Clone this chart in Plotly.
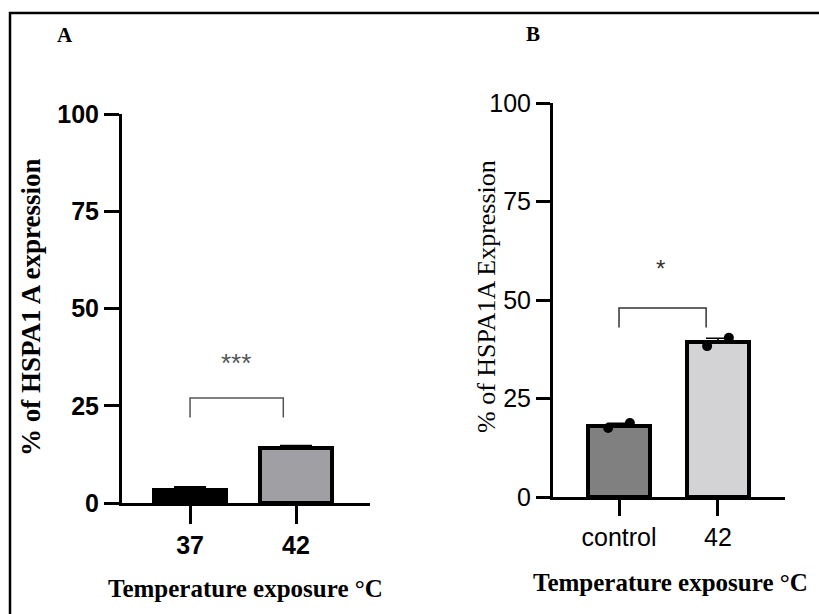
import plotly.graph_objects as go

# ---------------- data ----------------
A_categories = ["37", "42"]
A_means = [3.4, 14.2]
A_errors = [0.6, 0.4]
A_colors = ["#000000", "#A0A0A4"]
A_bracket_y = [22, 27]
A_star_y = 36
A_star_text = "***"

B_categories = ["control", "42"]
B_means = [18.1, 39.3]
B_errors = [0.6, 1.0]
B_points_control = [17.5, 18.8]
B_points_42 = [38.3, 40.4]
B_colors = ["#808080", "#D3D3D5"]
B_bracket_y = [43, 48]
B_star_y = 58
B_star_text = "*"

y_ticks = [0, 25, 50, 75, 100]

W, H = 819, 614

def px_x(p):
    return p / W

def px_y(p):
    return 1 - p / H

fig = go.Figure()

# Panel A bars
fig.add_trace(go.Bar(
    x=[0, 1], y=A_means, width=0.68,
    marker=dict(color=A_colors, line=dict(color="black", width=4)),
    error_y=dict(type="data", array=A_errors, symmetric=False,
                 arrayminus=[0] * len(A_errors),
                 color="black", thickness=3, width=16),
    xaxis="x", yaxis="y", showlegend=False,
))

# Panel B bars
fig.add_trace(go.Bar(
    x=[0, 1], y=B_means, width=0.62,
    marker=dict(color=B_colors, line=dict(color="black", width=4)),
    error_y=dict(type="data", array=B_errors, symmetric=False,
                 arrayminus=[0] * len(B_errors),
                 color="black", thickness=1.5, width=12),
    xaxis="x2", yaxis="y2", showlegend=False,
))

# Panel B individual points
offset = 0.11
fig.add_trace(go.Scatter(
    x=[0 - offset, 0 + offset], y=B_points_control, mode="markers",
    marker=dict(color="black", size=10),
    xaxis="x2", yaxis="y2", showlegend=False,
))
fig.add_trace(go.Scatter(
    x=[1 - offset, 1 + offset], y=B_points_42, mode="markers",
    marker=dict(color="black", size=10),
    xaxis="x2", yaxis="y2", showlegend=False,
))

axis_common = dict(showgrid=False, zeroline=False, showline=True,
                   linecolor="black", linewidth=3, ticks="outside",
                   tickcolor="black", tickwidth=3, automargin=False)

fig.update_layout(
    width=W, height=H, autosize=False,
    margin=dict(l=0, r=0, t=0, b=0, pad=0, autoexpand=False),
    paper_bgcolor="white", plot_bgcolor="white",
    bargap=0,
    xaxis=dict(domain=[px_x(122), px_x(370)], range=[-0.642, 1.698],
               tickvals=[0, 1], ticktext=A_categories, ticklen=18,
               tickfont=dict(family="Liberation Sans", size=25, color="black", weight="bold"),
               anchor="y", **axis_common),
    yaxis=dict(domain=[px_y(503), px_y(114)], range=[0, 100],
               tickvals=y_ticks, ticklen=15,
               tickfont=dict(family="Liberation Sans", size=25, color="black", weight="bold"),
               anchor="x", **axis_common),
    xaxis2=dict(domain=[px_x(553), px_x(785)], range=[-0.667, 1.677],
                tickvals=[0, 1], ticktext=B_categories, ticklen=16,
                tickfont=dict(family="Liberation Sans", size=25, color="black"),
                anchor="y2", **axis_common),
    yaxis2=dict(domain=[px_y(497), px_y(103)], range=[0, 100],
                tickvals=y_ticks, ticklen=14,
                tickfont=dict(family="Liberation Sans", size=25, color="black"),
                anchor="x2", **axis_common),
)

# significance brackets
for xr, yr, by, col in [("x", "y", A_bracket_y, "#555555"), ("x2", "y2", B_bracket_y, "#333333")]:
    fig.add_shape(type="path",
                  path=f"M 0,{by[0]} L 0,{by[1]} L 0.88,{by[1]} L 0.88,{by[0]}",
                  xref=xr, yref=yr, line=dict(color=col, width=1.5))

# outer frame
fig.add_shape(type="rect", xref="paper", yref="paper",
              x0=px_x(10), y0=-0.05, x1=1.05, y1=px_y(13),
              line=dict(color="black", width=2.5), fillcolor="rgba(0,0,0,0)")

annotations = [
    dict(text=A_star_text, x=0.43, y=A_star_y, xref="x", yref="y",
         font=dict(family="Liberation Sans", size=26, color="#555555")),
    dict(text=B_star_text, x=0.42, y=B_star_y, xref="x2", yref="y2",
         font=dict(family="Liberation Sans", size=24, color="#333333")),
    dict(text="<b>A</b>", x=px_x(65), y=px_y(35), xref="paper", yref="paper",
         font=dict(family="Liberation Serif", size=21, color="black")),
    dict(text="<b>B</b>", x=px_x(533), y=px_y(34), xref="paper", yref="paper",
         font=dict(family="Liberation Serif", size=21, color="black")),
    dict(text="<b>Temperature exposure °C</b>", x=px_x(245), y=px_y(588),
         xref="paper", yref="paper",
         font=dict(family="Liberation Serif", size=25, color="black")),
    dict(text="<b>Temperature exposure °C</b>", x=px_x(670), y=px_y(582),
         xref="paper", yref="paper",
         font=dict(family="Liberation Serif", size=25, color="black")),
    dict(text="<b>% of HSPA1 A expression</b>", x=px_x(31), y=px_y(307),
         xref="paper", yref="paper", textangle=-90,
         font=dict(family="Liberation Serif", size=27, color="black")),
    dict(text="% of HSPA1A Expression", x=px_x(486), y=px_y(297),
         xref="paper", yref="paper", textangle=-90,
         font=dict(family="Liberation Serif", size=26, color="black")),
]
for a in annotations:
    a.update(showarrow=False, xanchor="center", yanchor="middle")
    fig.add_annotation(**a)

fig.write_html("out.html", config={"displayModeBar": False},
               post_script="document.body.style.margin='0';")
